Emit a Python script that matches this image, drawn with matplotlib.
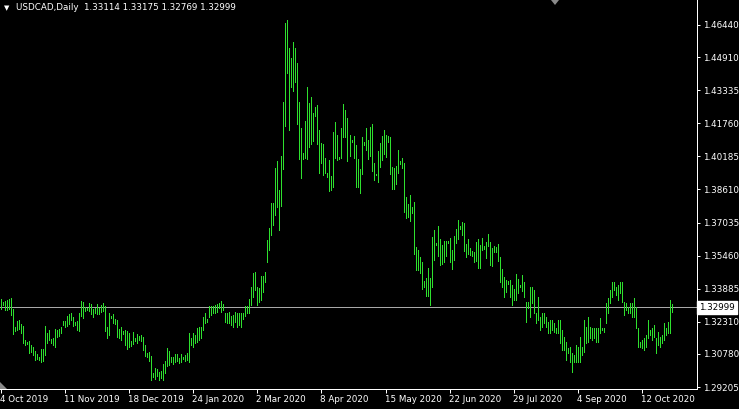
import numpy as np
import matplotlib
matplotlib.use('Agg')
import matplotlib.pyplot as plt
from matplotlib.patches import Polygon
from matplotlib import transforms

symbol = 'USDCAD,Daily'
last_ohlc = [1.33114, 1.33175, 1.32769, 1.32999]

# daily highs / lows, oldest first
highs = [
    1.3339, 1.3325, 1.3330, 1.3335, 1.3339, 1.3344, 1.3292, 1.3206, 1.3235, 1.3240,
    1.3220, 1.3211, 1.3144, 1.3135, 1.3140, 1.3120, 1.3111, 1.3092, 1.3078, 1.3063,
    1.3101, 1.3101, 1.3211, 1.3178, 1.3192, 1.3149, 1.3154, 1.3197, 1.3192, 1.3197,
    1.3206, 1.3235, 1.3235, 1.3259, 1.3268, 1.3273, 1.3254, 1.3230, 1.3235, 1.3273,
    1.3330, 1.3325, 1.3301, 1.3297, 1.3320, 1.3316, 1.3292, 1.3297, 1.3316, 1.3297,
    1.3311, 1.3320, 1.3306, 1.3206, 1.3273, 1.3259, 1.3268, 1.3244, 1.3240, 1.3197,
    1.3206, 1.3187, 1.3192, 1.3187, 1.3178, 1.3140, 1.3182, 1.3154, 1.3173, 1.3163,
    1.3168, 1.3159, 1.3120, 1.3082, 1.3087, 1.3068, 1.2987, 1.3011, 1.3006, 1.2992,
    1.2997, 1.3030, 1.3044, 1.3106, 1.3092, 1.3063, 1.3063, 1.3078, 1.3078, 1.3059,
    1.3078, 1.3063, 1.3073, 1.3082, 1.3178, 1.3154, 1.3178, 1.3168, 1.3201, 1.3206,
    1.3206, 1.3254, 1.3273, 1.3244, 1.3306, 1.3306, 1.3306, 1.3311, 1.3316, 1.3320,
    1.3330, 1.3316, 1.3273, 1.3273, 1.3278, 1.3259, 1.3263, 1.3278, 1.3273, 1.3273,
    1.3273, 1.3273, 1.3306, 1.3306, 1.3339, 1.3397, 1.3463, 1.3468, 1.3397, 1.3392,
    1.3449, 1.3449, 1.3468, 1.3620, 1.3678, 1.3797, 1.3797, 1.3963, 1.3996, 1.3858,
    1.4020, 1.4277, 1.4653, 1.4668, 1.4534, 1.4487, 1.4563, 1.4534, 1.4463, 1.4277,
    1.4154, 1.4035, 1.4187, 1.4349, 1.4273, 1.4301, 1.4225, 1.4254, 1.4263, 1.4144,
    1.4082, 1.4077, 1.4011, 1.3939, 1.4001, 1.3925, 1.4135, 1.4182, 1.4120, 1.4016,
    1.4154, 1.4268, 1.4239, 1.4201, 1.4120, 1.4096, 1.4116, 1.4073, 1.4006, 1.3958,
    1.4111, 1.4087, 1.4154, 1.4096, 1.4158, 1.4173, 1.3987, 1.3935, 1.4044, 1.4082,
    1.4116, 1.4144, 1.4120, 1.4116, 1.4111, 1.3968, 1.3963, 1.3973, 1.4049, 1.3996,
    1.4011, 1.3987, 1.3825, 1.3792, 1.3835, 1.3777, 1.3801, 1.3587, 1.3573, 1.3539,
    1.3516, 1.3425, 1.3439, 1.3487, 1.3439, 1.3635, 1.3668, 1.3606, 1.3687, 1.3625,
    1.3597, 1.3615, 1.3615, 1.3615, 1.3630, 1.3573, 1.3639, 1.3673, 1.3716, 1.3687,
    1.3706, 1.3701, 1.3601, 1.3625, 1.3582, 1.3568, 1.3563, 1.3611, 1.3625, 1.3597,
    1.3630, 1.3592, 1.3611, 1.3649, 1.3611, 1.3582, 1.3592, 1.3587, 1.3601, 1.3539,
    1.3482, 1.3444, 1.3430, 1.3425, 1.3430, 1.3406, 1.3387, 1.3458, 1.3435, 1.3406,
    1.3454, 1.3420, 1.3325, 1.3325, 1.3397, 1.3397, 1.3382, 1.3273, 1.3349, 1.3254,
    1.3273, 1.3273, 1.3254, 1.3230, 1.3240, 1.3240, 1.3225, 1.3201, 1.3240, 1.3240,
    1.3192, 1.3159, 1.3135, 1.3106, 1.3111, 1.3082, 1.3073, 1.3120, 1.3111, 1.3159,
    1.3111, 1.3240, 1.3206, 1.3254, 1.3206, 1.3201, 1.3201, 1.3201, 1.3201, 1.3249,
    1.3201, 1.3201, 1.3320, 1.3344, 1.3382, 1.3420, 1.3420, 1.3397, 1.3406, 1.3420,
    1.3420, 1.3325, 1.3320, 1.3301, 1.3320, 1.3320, 1.3344, 1.3301, 1.3201, 1.3135,
    1.3144, 1.3154, 1.3168, 1.3240, 1.3192, 1.3201, 1.3216, 1.3154, 1.3182, 1.3159,
    1.3168, 1.3225, 1.3201, 1.3230, 1.3335, 1.33175,
]
lows = [
    1.3292, 1.3311, 1.3287, 1.3287, 1.3292, 1.3263, 1.3173, 1.3187, 1.3192, 1.3197,
    1.3178, 1.3130, 1.3120, 1.3125, 1.3082, 1.3087, 1.3073, 1.3049, 1.3054, 1.3049,
    1.3040, 1.3044, 1.3073, 1.3130, 1.3144, 1.3130, 1.3120, 1.3111, 1.3159, 1.3163,
    1.3178, 1.3216, 1.3206, 1.3211, 1.3220, 1.3240, 1.3211, 1.3216, 1.3192, 1.3187,
    1.3259, 1.3249, 1.3282, 1.3287, 1.3282, 1.3268, 1.3254, 1.3273, 1.3268, 1.3268,
    1.3278, 1.3282, 1.3187, 1.3154, 1.3168, 1.3249, 1.3225, 1.3220, 1.3159, 1.3154,
    1.3144, 1.3173, 1.3120, 1.3101, 1.3111, 1.3116, 1.3125, 1.3140, 1.3130, 1.3144,
    1.3140, 1.3097, 1.3068, 1.3063, 1.3044, 1.2954, 1.2968, 1.2959, 1.2973, 1.2954,
    1.2963, 1.2954, 1.2987, 1.3020, 1.3025, 1.3040, 1.3030, 1.3040, 1.3044, 1.3035,
    1.3040, 1.3054, 1.3044, 1.3049, 1.3040, 1.3120, 1.3111, 1.3130, 1.3135, 1.3144,
    1.3154, 1.3192, 1.3225, 1.3230, 1.3254, 1.3263, 1.3273, 1.3273, 1.3278, 1.3297,
    1.3278, 1.3287, 1.3230, 1.3225, 1.3225, 1.3216, 1.3206, 1.3230, 1.3206, 1.3216,
    1.3206, 1.3244, 1.3259, 1.3273, 1.3273, 1.3311, 1.3349, 1.3382, 1.3311, 1.3325,
    1.3335, 1.3373, 1.3420, 1.3516, 1.3573, 1.3644, 1.3692, 1.3739, 1.3777, 1.3668,
    1.3782, 1.3958, 1.4163, 1.4415, 1.4144, 1.4349, 1.4330, 1.4373, 1.4173, 1.4006,
    1.3916, 1.4006, 1.4011, 1.4006, 1.4063, 1.4077, 1.4092, 1.4211, 1.4077, 1.3939,
    1.3987, 1.3930, 1.3939, 1.3920, 1.3854, 1.3858, 1.3873, 1.4011, 1.4001, 1.4006,
    1.4011, 1.4111, 1.4111, 1.3996, 1.4020, 1.4087, 1.4011, 1.3873, 1.3873, 1.3844,
    1.3935, 1.4073, 1.4049, 1.4006, 1.4020, 1.3949, 1.3906, 1.3930, 1.3897, 1.3968,
    1.4001, 1.4030, 1.4016, 1.4087, 1.3935, 1.3863, 1.3863, 1.3887, 1.3939, 1.3982,
    1.3963, 1.3754, 1.3725, 1.3730, 1.3711, 1.3749, 1.3554, 1.3478, 1.3478, 1.3463,
    1.3387, 1.3397, 1.3354, 1.3354, 1.3311, 1.3397, 1.3525, 1.3597, 1.3544, 1.3501,
    1.3506, 1.3516, 1.3544, 1.3606, 1.3516, 1.3482, 1.3525, 1.3606, 1.3625, 1.3673,
    1.3644, 1.3568, 1.3539, 1.3554, 1.3549, 1.3544, 1.3516, 1.3520, 1.3487, 1.3487,
    1.3573, 1.3578, 1.3535, 1.3592, 1.3501, 1.3497, 1.3563, 1.3563, 1.3520, 1.3420,
    1.3397, 1.3349, 1.3373, 1.3411, 1.3349, 1.3311, 1.3335, 1.3335, 1.3368, 1.3397,
    1.3378, 1.3349, 1.3230, 1.3297, 1.3254, 1.3320, 1.3273, 1.3225, 1.3240, 1.3192,
    1.3206, 1.3225, 1.3206, 1.3178, 1.3178, 1.3192, 1.3182, 1.3178, 1.3178, 1.3130,
    1.3097, 1.3097, 1.3049, 1.3082, 1.3040, 1.2992, 1.3040, 1.3040, 1.3040, 1.3040,
    1.3073, 1.3087, 1.3130, 1.3135, 1.3154, 1.3144, 1.3154, 1.3135, 1.3135, 1.3178,
    1.3192, 1.3182, 1.3225, 1.3273, 1.3320, 1.3349, 1.3382, 1.3359, 1.3335, 1.3368,
    1.3325, 1.3263, 1.3287, 1.3273, 1.3273, 1.3254, 1.3254, 1.3201, 1.3111, 1.3111,
    1.3106, 1.3097, 1.3111, 1.3154, 1.3168, 1.3144, 1.3159, 1.3082, 1.3120, 1.3111,
    1.3130, 1.3144, 1.3168, 1.3178, 1.3178, 1.32769,
]

date_labels = ['4 Oct 2019', '11 Nov 2019', '18 Dec 2019', '24 Jan 2020', '2 Mar 2020',
               '8 Apr 2020', '15 May 2020', '22 Jun 2020', '29 Jul 2020', '4 Sep 2020',
               '12 Oct 2020']
date_bars = [0, 32, 64, 96, 128, 160, 192, 224, 256, 288, 320]

price_ticks = [1.46440, 1.44910, 1.43335, 1.41760, 1.40185, 1.38610, 1.37035,
               1.35460, 1.33885, 1.32310, 1.30780, 1.29205]

W, H = 739, 409
PX = 72 / 100  # one pixel in points

fig = plt.figure(figsize=(W / 100, H / 100), dpi=100, facecolor='black')
ax = fig.add_axes([0, 20 / H, 697 / W, 389 / H], facecolor='black')

idx = np.arange(len(highs))
ax.vlines(idx, lows, highs, color='#2ee02e', linewidth=PX, antialiased=False, zorder=3)

bid = last_ohlc[3]
ax.axhline(bid, color='#a8a8a8', linewidth=PX, antialiased=False, zorder=2)

ax.set_xlim(-0.5, 347.5)
ax.set_ylim(1.2911, 1.4763)

for s in ['left', 'top']:
    ax.spines[s].set_visible(False)
for s in ['right', 'bottom']:
    ax.spines[s].set_color('white')
    ax.spines[s].set_linewidth(PX)
    ax.spines[s].set_antialiased(False)

ax.yaxis.tick_right()
ax.set_yticks(price_ticks)
ax.set_yticklabels(['%.5f' % v for v in price_ticks])
ax.tick_params(axis='y', colors='white', length=2.2, width=PX, pad=2.5,
               labelsize=6.3, direction='out')

ax.set_xticks(date_bars)
ax.set_xticklabels(date_labels, ha='left')
ax.tick_params(axis='x', colors='white', length=3, width=PX, pad=1.5,
               labelsize=6.3, direction='out')
offset = transforms.ScaledTranslation(-1 / 100, 0, fig.dpi_scale_trans)
for lab in ax.get_xticklabels():
    lab.set_horizontalalignment('left')
    lab.set_transform(lab.get_transform() + offset)

# bid price label on the right scale
trans = transforms.blended_transform_factory(ax.transAxes, ax.transData)
ax.text(1.003, bid, '%.5f' % bid, transform=trans, ha='left', va='center',
        fontsize=6.3, color='black', clip_on=False, zorder=5,
        bbox=dict(boxstyle='square,pad=0.25', facecolor='white', edgecolor='white'))

# title
fig.text(4 / W, 1 - 8 / H, '\u25BC', color='white', fontsize=5, va='center', ha='left')
fig.text(16 / W, 1 - 8 / H,
         '%s  %.5f %.5f %.5f %.5f' % (symbol, *last_ohlc),
         color='white', fontsize=6.3, va='center', ha='left')

# chart shift marker and corner marker
fig.patches.append(Polygon([[551 / W, 1.0], [559 / W, 1.0], [555 / W, 1 - 5 / H]],
                           closed=True, transform=fig.transFigure,
                           facecolor='#8a8a8a', edgecolor='none'))
fig.patches.append(Polygon([[0, 1 - 382 / H], [0, 1 - 389 / H], [7 / W, 1 - 389 / H]],
                           closed=True, transform=fig.transFigure,
                           facecolor='#8a8a8a', edgecolor='none'))

fig.savefig('out.png', dpi=100, facecolor='black')
